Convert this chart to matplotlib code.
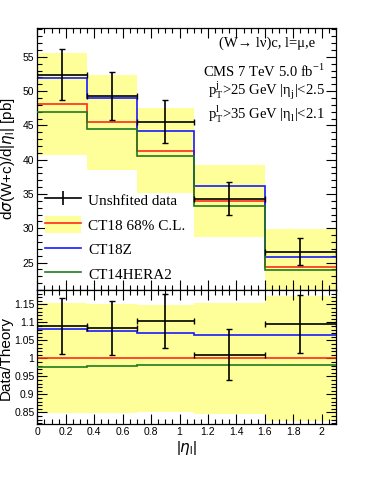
import matplotlib
matplotlib.use('Agg')
import matplotlib.pyplot as plt
import numpy as np
from matplotlib.lines import Line2D
from matplotlib.patches import Patch
from matplotlib.ticker import MultipleLocator

# bin edges in |eta_l|
edges = np.array([0.0, 0.35, 0.7, 1.1, 1.6, 2.1])

# measured cross section [pb] and its uncertainty
data = np.array([52.38, 49.28, 45.53, 34.29, 26.6])
data_err = np.array([3.7, 3.45, 3.1, 2.4, 1.95])

# theory predictions [pb]
ct18 = np.array([48.07, 45.45, 41.27, 33.95, 24.29])
ct18z = np.array([51.94, 48.94, 44.19, 36.18, 25.88])
ct14hera2 = np.array([46.95, 44.52, 40.55, 33.31, 23.85])

# CT18 68% C.L. band, top panel [pb]
band_lo = np.array([40.65, 38.5, 35.1, 28.7, 20.2])
band_hi = np.array([55.58, 52.38, 47.58, 39.24, 29.88])

# CT18 68% C.L. band, ratio panel
rband_lo = np.array([0.848, 0.849, 0.851, 0.847, 0.826])
rband_hi = np.array([1.154, 1.152, 1.149, 1.155, 1.173])

legend_labels = ['Unshfited data', 'CT18 68% C.L.', 'CT18Z', 'CT14HERA2']

YELLOW = '#ffff99'
RED = '#ff2a1a'
BLUE = '#1a1aff'
GREEN = '#1f7a1f'

plt.rcParams['font.family'] = ['Liberation Sans', 'DejaVu Sans']
SERIF = ['Liberation Serif', 'DejaVu Serif']

W, H = 374, 484
fig = plt.figure(figsize=(W / 100, H / 100), dpi=100)


def px_axes(x0, y0, x1, y1):
    return fig.add_axes([x0 / W, 1 - y1 / H, (x1 - x0) / W, (y1 - y0) / H])


ax1 = px_axes(37.3, 28, 336, 290)
ax2 = px_axes(37.3, 290, 336, 424)

centers = 0.5 * (edges[:-1] + edges[1:])
half = 0.5 * np.diff(edges)
widths = np.diff(edges)

# --- top panel
ax1.bar(edges[:-1], band_hi - band_lo, bottom=band_lo, width=widths,
        align='edge', color=YELLOW, linewidth=0, zorder=1)
ax1.stairs(ct18, edges, baseline=None, color=RED, lw=1.2, zorder=2)
ax1.stairs(ct18z, edges, baseline=None, color=BLUE, lw=1.2, zorder=2)
ax1.stairs(ct14hera2, edges, baseline=None, color=GREEN, lw=1.2, zorder=3)
ax1.errorbar(centers, data, xerr=half, yerr=data_err, fmt='none',
             ecolor='black', elinewidth=1.2, capsize=2, capthick=1.0, zorder=4)
ax1.set_xlim(0, 2.1)
ax1.set_ylim(21.0, 59.2)

# --- ratio panel
ratio = data / ct18
ratio_err = data_err / ct18
ax2.bar(edges[:-1], rband_hi - rband_lo, bottom=rband_lo, width=widths,
        align='edge', color=YELLOW, linewidth=0, zorder=1)
ax2.stairs(ct18 / ct18, edges, baseline=None, color=RED, lw=1.2, zorder=2)
ax2.stairs(ct18z / ct18, edges, baseline=None, color=BLUE, lw=1.2, zorder=2)
ax2.stairs(ct14hera2 / ct18, edges, baseline=None, color=GREEN, lw=1.2, zorder=3)
ax2.errorbar(centers, ratio, xerr=half, yerr=ratio_err, fmt='none',
             ecolor='black', elinewidth=1.2, capsize=2, capthick=1.0, zorder=4)
ax2.set_xlim(0, 2.1)
ax2.set_ylim(0.818, 1.19)

# ROOT-like ticks
for ax in (ax1, ax2):
    ax.xaxis.set_major_locator(MultipleLocator(0.2))
    ax.xaxis.set_minor_locator(MultipleLocator(0.05))
    ax.tick_params(which='both', direction='in', top=True, right=True,
                   labelsize=7.5, width=0.8, pad=2)
    ax.tick_params(which='major', length=7)
    ax.tick_params(which='minor', length=3.5)
    for s in ax.spines.values():
        s.set_linewidth(0.9)
ax1.yaxis.set_major_locator(MultipleLocator(5))
ax1.yaxis.set_minor_locator(MultipleLocator(1))
ax2.yaxis.set_major_locator(MultipleLocator(0.05))
ax2.yaxis.set_minor_locator(MultipleLocator(0.01))
ax2.set_yticks([0.85, 0.9, 0.95, 1.0, 1.05, 1.1, 1.15])
ax2.set_yticklabels(['0.85', '0.9', '0.95', '1', '1.05', '1.1', '1.15'])
ax2.set_xticks([0, 0.2, 0.4, 0.6, 0.8, 1.0, 1.2, 1.4, 1.6, 1.8, 2.0])
ax2.set_xticklabels(['0', '0.2', '0.4', '0.6', '0.8', '1', '1.2', '1.4',
                     '1.6', '1.8', '2'])
ax1.set_xticks(ax2.get_xticks())
ax1.set_xticklabels([])

# axis titles
fig.text(8 / W, 1 - 97 / H, r'd$\sigma$(W+c)/d|$\eta_{\mathregular{l}}$| [pb]',
         rotation=90, ha='center', va='top', fontsize=11)
fig.text(6 / W, 1 - 358 / H, 'Data/Theory', rotation=90, ha='center',
         va='center', fontsize=11)
fig.text(187 / W, 1 - 448 / H, r'|$\eta_{\mathregular{l}}$|', ha='center',
         va='center', fontsize=11)

# annotations
ax1.text(0.93, 0.943, '(W\u2192 l\u03bd)c, l=\u03bc,e', transform=ax1.transAxes,
         ha='right', va='center', fontsize=10.5, family=SERIF)
ax1.text(0.963, 0.836, r'CMS 7 TeV 5.0 fb$^{\mathregular{-1}}$',
         transform=ax1.transAxes, ha='right', va='center', fontsize=10.5,
         family=SERIF)
ax1.text(0.963, 0.761,
         r'p$_{\mathregular{T}}^{\mathregular{j}}$>25 GeV |$\mathregular{\eta}_{\mathregular{j}}$|<2.5',
         transform=ax1.transAxes, ha='right', va='center', fontsize=10.5,
         family=SERIF)
ax1.text(0.963, 0.672,
         r'p$_{\mathregular{T}}^{\mathregular{l}}$>35 GeV |$\mathregular{\eta}_{\mathregular{l}}$|<2.1',
         transform=ax1.transAxes, ha='right', va='center', fontsize=10.5,
         family=SERIF)

# legend
h_data = Line2D([], [], color='black', lw=1.2, marker='|', markersize=10,
                markeredgewidth=1.2)
h_ct18 = (Patch(facecolor=YELLOW, edgecolor='none'),
          Line2D([], [], color=RED, lw=1.2))
h_ct18z = Line2D([], [], color=BLUE, lw=1.2)
h_hera = Line2D([], [], color=GREEN, lw=1.2)
ax1.legend([h_data, h_ct18, h_ct18z, h_hera], legend_labels,
           loc='lower left', bbox_to_anchor=(0.025, 0.03), frameon=False,
           prop={'family': SERIF, 'size': 11}, numpoints=1,
           handlelength=2.4, handleheight=1.3, handletextpad=0.45,
           labelspacing=0.52, borderpad=0, borderaxespad=0)

fig.savefig('out.png', dpi=100)
